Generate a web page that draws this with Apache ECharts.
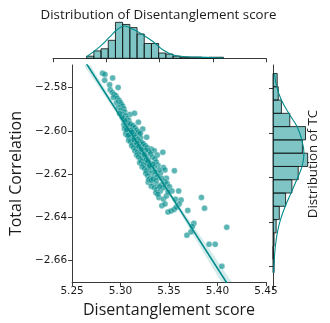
<!DOCTYPE html>
<html><head><meta charset="utf-8">
<script src="https://cdn.jsdelivr.net/npm/echarts@6/dist/echarts.min.js"></script>
<style>html,body{margin:0;padding:0;background:#fff}#c{width:330px;height:323px}</style>
</head><body><div id="c"></div>
<script>
// ---- data ----
const scatterX = [5.2814,5.2839,5.2836,5.2918,5.2887,5.2975,5.2893,5.2915,5.2933,5.2952,5.2927,5.2965,5.2984,5.2996,5.2958,5.3006,5.3021,5.2977,5.3034,5.3002,5.3043,5.3097,5.3144,5.3021,5.3053,5.3065,5.3084,5.3184,5.3040,5.3059,
5.3072,5.3084,5.3097,5.3115,5.3128,5.3090,5.3144,5.3159,5.3229,5.3103,5.3122,5.3269,5.3191,5.3207,5.3144,5.3159,5.3175,5.3197,5.3222,5.3128,5.3153,5.3238,5.3316,5.3348,5.3301,5.3379,5.3436,5.3184,5.3207,5.3229,5.3254,5.3269,5.3285,5.3222,5.3241,5.3316,5.3386,5.3254,5.3285,5.3316,5.3348,5.3442,5.3458,5.3555,5.3304,5.3348,5.3379,5.3410,5.3473,5.3285,5.3332,5.3379,5.3426,5.3458,5.3316,5.3348,5.3373,5.3410,5.3442,5.3480,5.3505,5.3364,5.3395,5.3442,5.3426,5.3458,5.3530,5.3599,5.3567,5.3624,5.3605,5.3489,5.3520,5.3552,5.3574,5.3693,5.3834,5.3866,5.3756,5.3740,5.3725,5.3684,5.3913,5.3976,5.4095,5.4045,
5.3034,5.3050,5.3065,5.3040,5.3059,5.3078,5.3053,5.3072,5.3090,5.3109,5.3084,5.3103,5.3122,5.3140,5.3115,5.3134,5.3159,5.3147,5.3172,5.3191,5.3166,5.3184,5.3204,5.3216,5.3197,5.3235,5.3222,5.3247,5.3266,5.3260,5.3279,5.3304,5.3291,5.3316,5.3335,5.3159,5.3178,5.3197,5.3216,5.3235,5.3254,5.3273,5.3291,5.3310,5.3329,5.3354,5.3367,5.3335,5.3260,5.3084,5.3103,5.3128,5.3147,5.3166,5.3184,5.3204,5.3140,5.3109,5.3028,5.3046,5.3015,5.2990,5.3398,5.3423,5.3367,5.3404,5.3385,5.3473,5.3489,5.3354,5.3273,5.3297,
5.3062,5.3081,5.3119,5.3138,5.3169,5.3188,5.3213,5.3244,5.3263,5.3282,5.3300];
const scatterY = [-2.5733,-2.5739,-2.5766,-2.5755,-2.5787,-2.5799,-2.5810,-2.5822,-2.5831,-2.5837,-2.5846,-2.5849,-2.5858,-2.5867,-2.5870,-2.5876,-2.5885,-2.5891,-2.5897,-2.5905,-2.5912,-2.5924,-2.5918,-2.5924,-2.5930,-2.5942,-2.5951,-2.5960,-2.5954,-2.5963,
-2.5972,-2.5979,-2.5987,-2.5982,-2.5993,-2.5999,-2.6002,-2.6011,-2.5991,-2.6009,-2.6018,-2.6029,-2.6017,-2.6032,-2.6032,-2.6044,-2.6054,-2.6062,-2.6066,-2.6047,-2.6062,-2.6077,-2.6084,-2.6092,-2.6099,-2.6112,-2.6099,-2.6084,-2.6099,-2.6106,-2.6115,-2.6124,-2.6136,-2.6129,-2.6144,-2.6151,-2.6159,-2.6159,-2.6174,-2.6181,-2.6166,-2.6169,-2.6181,-2.6184,-2.6196,-2.6205,-2.6211,-2.6196,-2.6219,-2.6238,-2.6241,-2.6249,-2.6249,-2.6235,-2.6256,-2.6263,-2.6271,-2.6278,-2.6263,-2.6244,-2.6259,-2.6286,-2.6308,-2.6316,-2.6346,-2.6338,-2.6278,-2.6278,-2.6316,-2.6320,-2.6338,-2.6376,-2.6371,-2.6364,-2.6353,-2.6368,-2.6308,-2.6358,-2.6428,-2.6443,-2.6468,-2.6483,-2.6525,-2.6525,-2.6446,-2.6627,
-2.5972,-2.5979,-2.5987,-2.5990,-2.6002,-2.6009,-2.6014,-2.6023,-2.6032,-2.6039,-2.6044,-2.6050,-2.6059,-2.6065,-2.6069,-2.6077,-2.6080,-2.6092,-2.6099,-2.6106,-2.6112,-2.6121,-2.6129,-2.6139,-2.6148,-2.6154,-2.6166,-2.6174,-2.6184,-2.6196,-2.6208,-2.6219,-2.6226,-2.6229,-2.6223,-2.6029,-2.6039,-2.6047,-2.6054,-2.6059,-2.6069,-2.6077,-2.6092,-2.6106,-2.6121,-2.6129,-2.6144,-2.6154,-2.6089,-2.5964,-2.5969,-2.5975,-2.5984,-2.5996,-2.6005,-2.6011,-2.6017,-2.5996,-2.5945,-2.5951,-2.5936,-2.5920,-2.6181,-2.6219,-2.6229,-2.6259,-2.6293,-2.6301,-2.6283,-2.6189,-2.6151,-2.6166,
-2.5995,-2.6020,-2.6005,-2.6041,-2.6058,-2.6072,-2.6085,-2.6110,-2.6133,-2.6141,-2.6160];

const xHistStart = 5.2816, xHistWidth = 0.00676;
const xHistCounts = [2,7,9,17,34,32,29,23,14,14,5,4,2,1,1,1,0,1,1];
const yHistStart = -2.6627, yHistWidth = 0.00596;           // bins from bottom to top
const yHistCounts = [1,0,1,3,6,12,18,24,33,28,31,16,8,5,4];

const xKdeX = [5.2816,5.2940,5.3035,5.3098,5.3169,5.3253,5.3347,5.3441,5.3535,5.3629,5.3754,5.3942,5.4100];
const xKdeC = [1.5,11,20.4,26.7,30.5,27.4,22,15.7,7.8,3.1,1.5,0.9,0.3];
const yKdeY = [-2.5733,-2.5793,-2.5852,-2.5912,-2.5972,-2.6032,-2.6091,-2.6152,-2.6211,-2.6271,-2.6331,-2.6391,-2.6450,-2.6510,-2.6570,-2.6628];
const yKdeC = [1.5,3.5,8,15,23,27.5,29.5,27.5,22.5,17,11.5,7,4,2.2,1.2,0.5];

const regX = [5.25, 5.45];
const regY = [-2.5585, -2.6987];
const bandX = [5.25,5.27,5.30,5.33,5.36,5.39,5.42,5.45];
const bandMid = [-2.5585,-2.5725,-2.5935,-2.6146,-2.6356,-2.6566,-2.6777,-2.6987];
const bandHalf = [0.0030,0.0022,0.0012,0.0009,0.0014,0.0030,0.0043,0.0058];

const xTicks = [5.25,5.30,5.35,5.40,5.45];
const yTicks = [-2.66,-2.64,-2.62,-2.60,-2.58];
const xRange = [5.25, 5.45];
const yRange = [-2.670, -2.5695];

// ---- styles ----
const C = '#008b8b';
const BAR_FILL = 'rgba(0,139,139,0.5)';
const BAR_EDGE = 'rgba(20,20,20,0.85)';
const AX = '#3a3a3a';
const TXT = '#1a1a1a';
const fmt = v => (v < 0 ? '\u2212' : '') + Math.abs(v).toFixed(2);

const chart = echarts.init(document.getElementById('c'), null, {renderer: 'canvas'});

function histXItem(params, api) {
  const a = api.coord([api.value(0), api.value(2)]);
  const b = api.coord([api.value(1), 0]);
  return {type: 'rect', shape: {x: a[0], y: a[1], width: b[0] - a[0], height: b[1] - a[1]},
    style: {fill: BAR_FILL, stroke: BAR_EDGE, lineWidth: 1}};
}
function histYItem(params, api) {
  const a = api.coord([0, api.value(1)]);
  const b = api.coord([api.value(2), api.value(0)]);
  return {type: 'rect', shape: {x: a[0], y: a[1], width: b[0] - a[0], height: b[1] - a[1]},
    style: {fill: BAR_FILL, stroke: BAR_EDGE, lineWidth: 1}};
}
function bandItem(params, api) {
  if (params.dataIndex !== 0) return null;
  const pts = [];
  for (let i = 0; i < bandX.length; i++) pts.push(api.coord([bandX[i], bandMid[i] + bandHalf[i]]));
  for (let i = bandX.length - 1; i >= 0; i--) pts.push(api.coord([bandX[i], bandMid[i] - bandHalf[i]]));
  const cs = params.coordSys;
  return {type: 'group', clipPath: {type: 'rect', shape: {x: cs.x, y: cs.y, width: cs.width, height: cs.height}},
    children: [{type: 'polygon', shape: {points: pts}, style: {fill: 'rgba(0,139,139,0.17)'}}]};
}

const xHistData = xHistCounts.map((c, i) => [xHistStart + i * xHistWidth, xHistStart + (i + 1) * xHistWidth, c]);
const yHistData = yHistCounts.map((c, i) => [yHistStart + i * yHistWidth, yHistStart + (i + 1) * yHistWidth, c]);

const option = {
  animation: false,
  grid: [
    {left: 53, top: 65, width: 213, height: 224},
    {left: 53, top: 20, width: 213, height: 38.3},
    {left: 273, top: 65, width: 38, height: 224}
  ],
  xAxis: [
    {gridIndex: 0, type: 'value', min: xRange[0], max: xRange[1], interval: 0.05,
      axisLine: {show: true, onZero: false, lineStyle: {color: AX, width: 1}},
      axisTick: {show: true, length: 4, lineStyle: {color: AX}},
      axisLabel: {show: true, color: TXT, fontSize: 10.5, fontFamily: 'DejaVu Sans', margin: 4, formatter: fmt, showMinLabel: true, showMaxLabel: true},
      splitLine: {show: false},
      name: 'Disentanglement score', nameLocation: 'middle', nameGap: 11,
      nameTextStyle: {fontSize: 16, fontFamily: 'Open Sans', color: TXT, verticalAlign: 'top'}},
    {gridIndex: 1, type: 'value', min: xRange[0], max: xRange[1], interval: 0.05,
      axisLine: {show: true, onZero: false, lineStyle: {color: AX, width: 1}},
      axisTick: {show: true, length: 4, lineStyle: {color: AX}},
      axisLabel: {show: false}, splitLine: {show: false}},
    {gridIndex: 2, type: 'value', min: 0, max: 36.2, show: false}
  ],
  yAxis: [
    {gridIndex: 0, type: 'value', min: yRange[0], max: yRange[1],
      axisLine: {show: true, onZero: false, lineStyle: {color: AX, width: 1}},
      axisTick: {show: true, length: 4, lineStyle: {color: AX}, customValues: yTicks},
      axisLabel: {show: true, color: TXT, fontSize: 10.5, fontFamily: 'DejaVu Sans', margin: 5, formatter: fmt, customValues: yTicks},
      splitLine: {show: false},
      name: 'Total Correlation', nameLocation: 'middle', nameGap: 39,
      nameTextStyle: {fontSize: 16, fontFamily: 'Open Sans', color: TXT}},
    {gridIndex: 1, type: 'value', min: 0, max: 36.2, show: false},
    {gridIndex: 2, type: 'value', min: yRange[0], max: yRange[1],
      axisLine: {show: true, onZero: false, lineStyle: {color: AX, width: 1}},
      axisTick: {show: true, length: 4, lineStyle: {color: AX}, customValues: yTicks},
      axisLabel: {show: false}, splitLine: {show: false}}
  ],
  graphic: [
    {type: 'text', x: 158.5, y: 15, style: {text: 'Distribution of Disentanglement score', font: '13.3px "Open Sans"', fill: TXT, textAlign: 'center', textVerticalAlign: 'middle'}},
    {type: 'text', x: 313.5, y: 164, rotation: Math.PI / 2, style: {text: 'Distribution of TC', font: '13.3px "Open Sans"', fill: TXT, textAlign: 'center', textVerticalAlign: 'middle'}}
  ],
  series: [
    {type: 'custom', xAxisIndex: 0, yAxisIndex: 0, renderItem: bandItem, data: [[bandX[0], bandMid[0]]], silent: true, z: 1},
    {type: 'line', xAxisIndex: 0, yAxisIndex: 0, data: regX.map((x, i) => [x, regY[i]]), showSymbol: false, clip: true,
      lineStyle: {color: C, width: 1.6}, z: 3},
    {type: 'scatter', xAxisIndex: 0, yAxisIndex: 0, data: scatterX.map((x, i) => [x, scatterY[i]]), symbolSize: 6,
      itemStyle: {color: 'rgba(0,139,139,0.8)', borderColor: 'rgba(255,255,255,0.5)', borderWidth: 0.7}, z: 2},
    {type: 'custom', xAxisIndex: 1, yAxisIndex: 1, renderItem: histXItem, data: xHistData, encode: {x: [0, 1], y: 2}},
    {type: 'line', xAxisIndex: 1, yAxisIndex: 1, data: xKdeX.map((x, i) => [x, xKdeC[i]]), showSymbol: false, smooth: 0.4,
      lineStyle: {color: C, width: 1.1}, z: 4},
    {type: 'custom', xAxisIndex: 2, yAxisIndex: 2, renderItem: histYItem, data: yHistData, encode: {x: 2, y: [0, 1]}},
    {type: 'line', xAxisIndex: 2, yAxisIndex: 2, data: yKdeY.map((y, i) => [yKdeC[i], y]), showSymbol: false, smooth: 0.4,
      lineStyle: {color: C, width: 1.1}, z: 4}
  ]
};
chart.setOption(option);
</script></body></html>
